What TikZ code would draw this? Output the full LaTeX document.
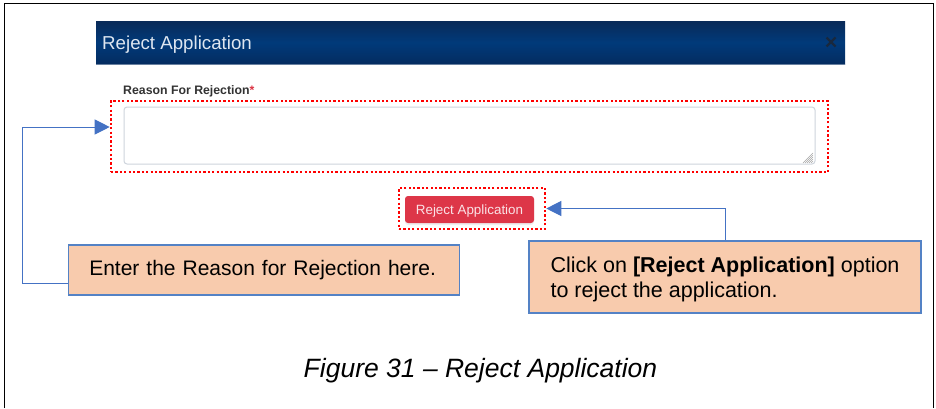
\documentclass[tikz,border=0pt]{standalone}
\usepackage{fontspec}
\setmainfont{Liberation Sans}
\usetikzlibrary{arrows.meta,shadows}

\definecolor{hdrtop}{RGB}{9,42,88}
\definecolor{hdrmid}{RGB}{1,58,122}
\definecolor{hdrbot}{RGB}{4,44,96}
\definecolor{titletxt}{RGB}{222,230,240}
\definecolor{closex}{RGB}{24,40,62}
\definecolor{labeltxt}{RGB}{51,51,51}
\definecolor{reqred}{RGB}{220,53,69}
\definecolor{areaborder}{RGB}{206,212,220}
\definecolor{btnred}{RGB}{221,54,72}
\definecolor{btntxt}{RGB}{250,226,230}
\definecolor{hilite}{RGB}{255,0,0}
\definecolor{calloutfill}{RGB}{248,203,173}
\definecolor{calloutline}{RGB}{84,130,197}
\definecolor{arrowblue}{RGB}{68,114,196}

\tikzset{
  callout/.style={draw=calloutline, line width=1.2pt, fill=calloutfill,
    font=\fontsize{21.5}{24.5}\selectfont, text=black, align=left, inner sep=0pt},
  hilitebox/.style={draw=hilite, line width=2.6pt, dash pattern=on 2.2pt off 2.2pt},
  pointer/.style={draw=arrowblue, line width=1pt,
    -{Triangle[length=15pt,width=15pt]}, fill=none},
}

\begin{document}
\begin{tikzpicture}[x=1pt,y=-1pt]
  % page area
  \useasboundingbox (0,0) rectangle (936,408);
  \fill[white] (0,0) rectangle (936,408);
  % frame, open at the bottom
  \draw[black, line width=1.6pt] (4.5,408) -- (4.5,3.5) -- (933.5,3.5) -- (933.5,408);

  % dialog header bar
  \shade[top color=hdrtop, bottom color=hdrbot, middle color=hdrmid] (96,21) rectangle (845,64);
  \draw[color=hdrbot!60!white, line width=0.8pt] (96,64) -- (845,64);
  \node[anchor=base west, inner sep=0pt, text=titletxt,
        font=\fontsize{18.7}{20}\selectfont] (title) at (102,49) {Reject Application};
  % close cross
  \coordinate (close) at (831,42);
  \draw[closex, line width=2.4pt] ([shift={(-4.5,-4.5)}]close) -- ([shift={(4.5,4.5)}]close)
                                  ([shift={(-4.5,4.5)}]close) -- ([shift={(4.5,-4.5)}]close);

  % field label
  \node[anchor=base west, inner sep=0pt, text=labeltxt,
        font=\fontsize{12.3}{14}\selectfont\bfseries] (lbl) at (123,94)
        {Reason For Rejection\textcolor{reqred}{*}};

  % text area with resize grip
  \draw[areaborder, line width=1pt, rounded corners=3pt, fill=white] (124,107) rectangle (815,164);
  \foreach \s in {2,4,6,8,10} {
    \draw[gray!70, line width=0.6pt] (813,163-\s) -- (813-\s,163);
  }

  % highlight around the text area
  \node[hilitebox, minimum width=717pt, minimum height=71pt, inner sep=0pt] (areahl) at (469.5,136.5) {};

  % reject button
  \node[fill=btnred, rounded corners=3pt, minimum width=129pt, minimum height=27pt,
        inner sep=0pt, text=btntxt, font=\fontsize{13.4}{15}\selectfont,
        text height=9.6pt, text depth=0pt,
        drop shadow={opacity=0.12, shadow xshift=0pt, shadow yshift=-2pt}] (btn) at (469.5,209.5)
        {Reject Application};
  \node[hilitebox, minimum width=146pt, minimum height=41pt, inner sep=0pt] (btnhl) at (472,208.5) {};

  % callouts
  \node[callout, font=\fontsize{21}{24.5}\selectfont, inner xsep=20.5pt, text width=350pt,
        minimum height=50pt] (c1) at (264.25,270)
    {\mbox{Enter the Reason for Rejection here.}};
  \node[callout, minimum width=392pt, minimum height=72pt, text depth=0pt] (c2) at (725,277)
    {Click on \textbf{[Reject Application]} option\\to reject the application.};

  % connectors
  \coordinate (c1turn) at (22,127);
  \draw[pointer] ([yshift=-13pt]c1.west) -| (c1turn) -- (areahl.west |- c1turn);
  \draw[pointer] (c2.north) |- (btnhl.east);

  % caption
  \node[anchor=base, inner sep=0pt, font=\fontsize{26.5}{30}\selectfont\itshape] (cap) at (480.5,377)
    {Figure 31 – Reject Application};
\end{tikzpicture}
\end{document}
